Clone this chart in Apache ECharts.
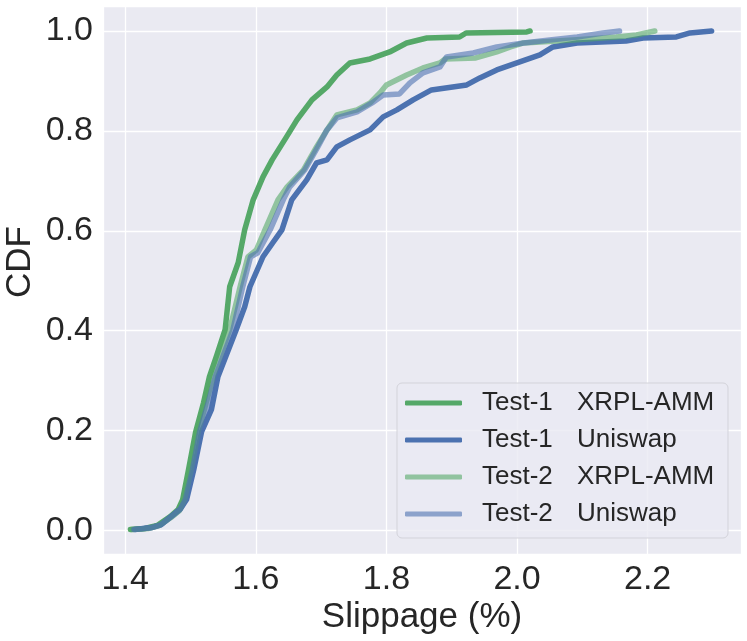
<!DOCTYPE html>
<html>
<head>
<meta charset="utf-8">
<script src="https://cdn.jsdelivr.net/npm/echarts@6/dist/echarts.min.js"></script>
<style>
  html, body { margin: 0; padding: 0; background: #ffffff; }
  #chart { width: 747px; height: 641px; }
</style>
</head>
<body>
<div id="chart"></div>
<script>
// ---- data (x = slippage %, y = CDF) ----
const seriesNames = ['Test-1 XRPL-AMM', 'Test-1 Uniswap', 'Test-2 XRPL-AMM', 'Test-2 Uniswap'];

const t1XrplX = [1.408, 1.430, 1.449, 1.469, 1.481, 1.488, 1.497, 1.508, 1.520, 1.529, 1.540, 1.553, 1.560, 1.573, 1.583, 1.596, 1.611, 1.625, 1.647, 1.663, 1.686, 1.709, 1.724, 1.744, 1.775, 1.805, 1.831, 1.862, 1.912, 1.922, 2.015, 2.020];
const t1XrplY = [0.002, 0.004, 0.010, 0.028, 0.042, 0.062, 0.122, 0.198, 0.256, 0.308, 0.350, 0.402, 0.488, 0.536, 0.602, 0.662, 0.708, 0.742, 0.788, 0.822, 0.862, 0.888, 0.912, 0.936, 0.944, 0.958, 0.976, 0.986, 0.988, 0.996, 0.998, 1.000];

const t1UniX = [1.415, 1.440, 1.455, 1.472, 1.485, 1.494, 1.505, 1.517, 1.532, 1.542, 1.570, 1.583, 1.591, 1.611, 1.626, 1.640, 1.655, 1.678, 1.693, 1.709, 1.724, 1.744, 1.775, 1.795, 1.816, 1.841, 1.869, 1.923, 1.943, 1.969, 2.002, 2.035, 2.055, 2.092, 2.167, 2.193, 2.244, 2.265, 2.298];
const t1UniY = [0.002, 0.006, 0.012, 0.030, 0.044, 0.062, 0.122, 0.198, 0.242, 0.308, 0.402, 0.448, 0.488, 0.548, 0.576, 0.602, 0.662, 0.702, 0.736, 0.742, 0.768, 0.782, 0.802, 0.828, 0.842, 0.862, 0.882, 0.892, 0.906, 0.922, 0.937, 0.952, 0.968, 0.976, 0.980, 0.986, 0.988, 0.996, 1.000];

const t2XrplX = [1.410, 1.435, 1.452, 1.470, 1.483, 1.491, 1.501, 1.512, 1.524, 1.535, 1.560, 1.576, 1.588, 1.601, 1.614, 1.634, 1.648, 1.673, 1.693, 1.709, 1.724, 1.755, 1.775, 1.790, 1.800, 1.831, 1.856, 1.882, 1.890, 1.937, 1.969, 1.990, 2.010, 2.086, 2.152, 2.183, 2.211];
const t2XrplY = [0.002, 0.004, 0.010, 0.026, 0.040, 0.062, 0.122, 0.198, 0.256, 0.308, 0.402, 0.488, 0.548, 0.562, 0.602, 0.662, 0.688, 0.722, 0.768, 0.802, 0.832, 0.842, 0.856, 0.876, 0.892, 0.912, 0.926, 0.936, 0.944, 0.946, 0.958, 0.968, 0.976, 0.982, 0.988, 0.992, 1.000];

const t2UniX = [1.413, 1.438, 1.454, 1.471, 1.484, 1.492, 1.503, 1.514, 1.527, 1.538, 1.565, 1.580, 1.592, 1.603, 1.622, 1.642, 1.652, 1.675, 1.695, 1.709, 1.724, 1.755, 1.778, 1.795, 1.820, 1.836, 1.856, 1.882, 1.892, 1.933, 1.969, 2.010, 2.050, 2.092, 2.132, 2.157];
const t2UniY = [0.002, 0.005, 0.011, 0.028, 0.042, 0.062, 0.122, 0.198, 0.256, 0.308, 0.402, 0.488, 0.548, 0.556, 0.602, 0.662, 0.688, 0.722, 0.768, 0.802, 0.826, 0.838, 0.856, 0.872, 0.874, 0.896, 0.916, 0.928, 0.948, 0.956, 0.968, 0.976, 0.982, 0.988, 0.996, 1.000];

const xTitle = 'Slippage (%)';
const yTitle = 'CDF';

function pairs(xs, ys) { return xs.map((x, i) => [x, ys[i]]); }

const colors = ['#55A868', '#4C72B0', 'rgba(85,168,104,0.6)', 'rgba(76,114,176,0.6)'];
const dataSets = [pairs(t1XrplX, t1XrplY), pairs(t1UniX, t1UniY), pairs(t2XrplX, t2XrplY), pairs(t2UniX, t2UniY)];

const chart = echarts.init(document.getElementById('chart'), null, { renderer: 'canvas' });
const FONT = 'Liberation Sans, Arial, sans-serif';
const TXT = '#262626';

chart.setOption({
  animation: false,
  backgroundColor: '#ffffff',
  textStyle: { fontFamily: FONT },
  grid: { left: 103, right: 6, top: 6, bottom: 87, show: true, backgroundColor: '#EAEAF2', borderWidth: 0,
    containLabel: false, outerBoundsMode: 'none' },
  xAxis: {
    type: 'value', min: 1.366, max: 2.343, splitNumber: 5,
    axisLine: { show: false }, axisTick: { show: false },
    axisLabel: { fontSize: 34, color: TXT, margin: 9, showMinLabel: false, showMaxLabel: false,
      formatter: v => v.toFixed(1) },
    splitLine: { lineStyle: { color: '#ffffff', width: 1.3 } }
  },
  yAxis: {
    type: 'value', min: -0.047, max: 1.05, splitNumber: 5,
    axisLine: { show: false }, axisTick: { show: false },
    axisLabel: { fontSize: 34, color: TXT, margin: 10, showMinLabel: false, showMaxLabel: false,
      formatter: v => v.toFixed(1) },
    splitLine: { lineStyle: { color: '#ffffff', width: 1.3 } }
  },
  graphic: [{
    type: 'text', x: 20, y: 262, rotation: Math.PI / 2,
    style: { text: yTitle, fontSize: 35, fill: TXT, fontFamily: FONT, align: 'center', verticalAlign: 'middle' }
  }, {
    type: 'text', x: 422, y: 617,
    style: { text: xTitle, fontSize: 35, fill: TXT, fontFamily: FONT, align: 'center', verticalAlign: 'middle' }
  }],
  legend: {
    orient: 'vertical', left: 397, top: 383,
    padding: [7, 11, 11, 8],
    itemWidth: 57, itemHeight: 5, itemGap: 11,
    icon: 'roundRect',
    backgroundColor: 'rgba(234,234,242,0.8)', borderColor: '#d3d3da', borderWidth: 1, borderRadius: 5,
    data: seriesNames,
    formatter: name => {
      const parts = name.split(' ');
      return '{a|' + parts[0] + '}{b|' + parts[1] + '}';
    },
    textStyle: {
      color: TXT, fontSize: 26, fontFamily: FONT, padding: [0, 0, 0, 15],
      rich: {
        a: { width: 95, fontSize: 26, color: TXT, fontFamily: FONT, lineHeight: 27 },
        b: { width: 140, fontSize: 26, color: TXT, fontFamily: FONT, lineHeight: 27 }
      }
    }
  },
  series: seriesNames.map((n, i) => ({
    name: n, type: 'line', data: dataSets[i], symbol: 'none', showSymbol: false,
    color: colors[i],
    itemStyle: { color: colors[i] },
    lineStyle: { color: colors[i], width: 5.5, cap: 'round', join: 'round' },
    z: 2 + i
  }))
});
</script>
</body>
</html>
